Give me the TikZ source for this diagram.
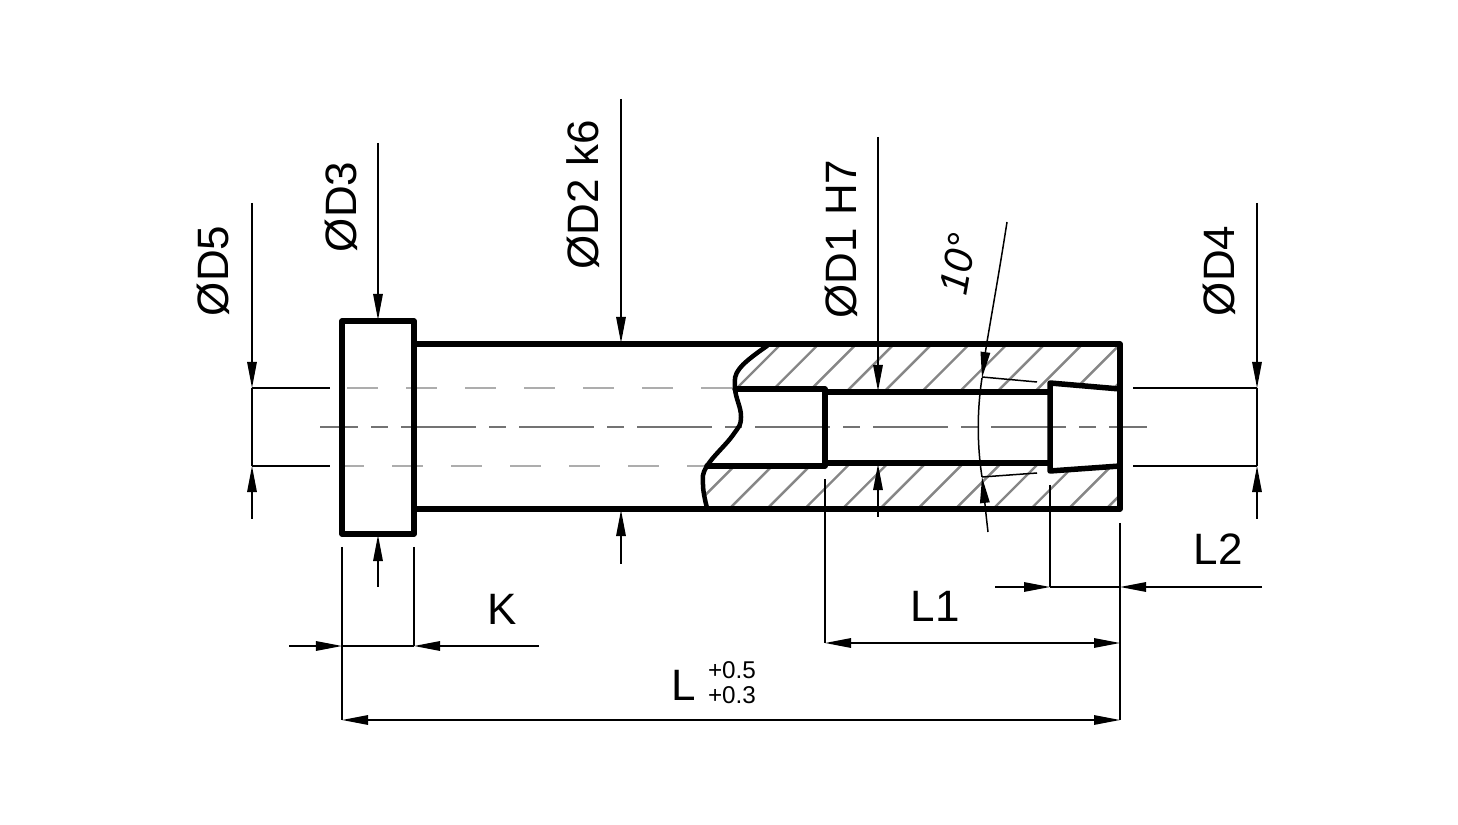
\documentclass[tikz,border=0pt]{standalone}
\usepackage{fontspec}
\setmainfont{Liberation Sans}
\usetikzlibrary{arrows.meta}

\tikzset{
  outline/.style={line width=0.055cm, line join=round, line cap=round},
  breakline/.style={line width=0.045cm, line cap=round},
  dimline/.style={line width=0.015cm},
  dimtip/.style={dimline, -{Triangle[length=0.26cm, width=0.095cm]}},
  dimboth/.style={dimline, {Triangle[length=0.26cm, width=0.095cm]}-{Triangle[length=0.26cm, width=0.095cm]}},
  hatchline/.style={line width=0.024cm, gray!95},
  hiddenline/.style={line width=0.019cm, black!32, dash pattern=on 0.31cm off 0.28cm},
  axisline/.style={line width=0.022cm, black!55, dash pattern=on 0.75cm off 0.13cm on 0.17cm off 0.13cm, dash phase=0.37cm},
  dimlabel/.style={font=\fontsize{12.5pt}{13pt}\selectfont, inner sep=0pt},
  tollabel/.style={font=\fontsize{6.9pt}{7pt}\selectfont, inner sep=0pt}
}

\begin{document}
\begin{tikzpicture}[x=0.01cm, y=-0.01cm]
  \useasboundingbox (0,0) rectangle (1458,825);

  % Hatching
  \begin{scope}
    \clip plot[smooth, tension=0.7] coordinates {(767,346) (740,368) (735,388)} -- (825,389) -- (825,392) -- (1050,392) -- (1050,383) -- (1120,389) -- (1120,344) -- cycle;
    \foreach \k in {-3,...,14}
      \draw[hatchline] ({1125+37.7*\k-340},340) -- ({1125+37.7*\k-515},515);
  \end{scope}
  \begin{scope}
    \clip plot[smooth, tension=0.7] coordinates {(707,509) (703,485) (707,466)} -- (825,466) -- (825,463) -- (1050,463) -- (1050,471) -- (1120,466) -- (1120,509) -- cycle;
    \foreach \k in {-3,...,14}
      \draw[hatchline] ({1125+37.7*\k-340},340) -- ({1125+37.7*\k-515},515);
  \end{scope}

  % Axis and hidden lines
  \draw[axisline] (320,427) -- (1147,427);
  \draw[hiddenline] (347,388) -- (735,388);
  \draw[hiddenline, dash phase=0.12cm] (345,466) -- (707,466);

  % Part
  \draw[outline] (342,321) rectangle (414,534);
  \draw[outline] (414,344) -- (1120,344) -- (1120,509) -- (414,509);
  \draw[outline] (735,389) -- (825,389) -- (825,466) -- (707,466);
  \draw[outline] (825,392) -- (1050,392);
  \draw[outline] (825,463) -- (1050,463);
  \draw[outline] (1120,389) -- (1050,383) -- (1050,471) -- (1120,466);
  \draw[breakline] plot[smooth, tension=0.7] coordinates {(767,346) (740,368) (735,388) (741,417) (733,435) (707,466) (703,485) (707,508)};

  % Labels
  \node[dimlabel, rotate=90] (dfive) at (213,271) {ØD5};
  \node[dimlabel, rotate=90] (dthree) at (341,207) {ØD3};
  \node[dimlabel, rotate=90] (dtwo) at (583,195) {ØD2 k6};
  \node[dimlabel, rotate=90] (done) at (841,239) {ØD1 H7};
  \node[dimlabel, rotate=90] (dfour) at (1219,271) {ØD4};
  \node[dimlabel, rotate=80, font=\fontsize{11.5pt}{12pt}\selectfont\itshape] (angle) at (958,264) {10°};
  \node[dimlabel] (k) at (502,609) {K};
  \node[dimlabel] (lone) at (935,606) {L1};
  \node[dimlabel] (ltwo) at (1218,549) {L2};
  \node[dimlabel] (l) at (684,685) {L};
  \node[tollabel] (tolup) at (732,670) {+0.5};
  \node[tollabel] (toldown) at (732,695) {+0.3};

  % Diameter arrows
  \draw[dimline] (252,388) -- (330,388);
  \draw[dimline] (252,466) -- (330,466);
  \draw[dimline] (252,388) -- (252,466);
  \draw[dimtip] (252,203) -- (252,388);
  \draw[dimtip] (252,519) -- (252,466);
  \draw[dimtip] (378,143) -- (378,320);
  \draw[dimtip] (378,587) -- (378,535);
  \draw[dimtip] (621,99) -- (621,343);
  \draw[dimtip] (621,564) -- (621,510);
  \draw[dimtip] (878,137) -- (878,391);
  \draw[dimtip] (878,517) -- (878,464);
  \draw[dimline] (1133,388) -- (1257,388);
  \draw[dimline] (1133,466) -- (1257,466);
  \draw[dimline] (1257,388) -- (1257,466);
  \draw[dimtip] (1257,203) -- (1257,388);
  \draw[dimtip] (1257,519) -- (1257,466);

  % Angle
  \draw[dimline] (982,377) -- (1037,382);
  \draw[dimline] (982,477) -- (1037,473);
  \draw[dimtip] (1007,222) .. controls (998,280) and (987,340) .. (982,378);
  \draw[dimline] (982,378) .. controls (977,410) and (977,445) .. (982,477);
  \draw[dimtip] (988,532) .. controls (986,515) and (984,495) .. (982,477);

  % Length arrows
  \draw[dimline] (342,547) -- (342,720);
  \draw[dimline] (414,547) -- (414,646);
  \draw[dimline] (825,479) -- (825,643);
  \draw[dimline] (1050,485) -- (1050,587);
  \draw[dimline] (1120,523) -- (1120,720);
  \draw[dimtip] (289,646) -- (342,646);
  \draw[dimtip] (539,646) -- (414,646);
  \draw[dimline] (342,646) -- (414,646);
  \draw[dimboth] (342,720) -- (1120,720);
  \draw[dimboth] (825,643) -- (1120,643);
  \draw[dimtip] (995,587) -- (1050,587);
  \draw[dimtip] (1262,587) -- (1120,587);
  \draw[dimline] (1050,587) -- (1120,587);
\end{tikzpicture}
\end{document}
